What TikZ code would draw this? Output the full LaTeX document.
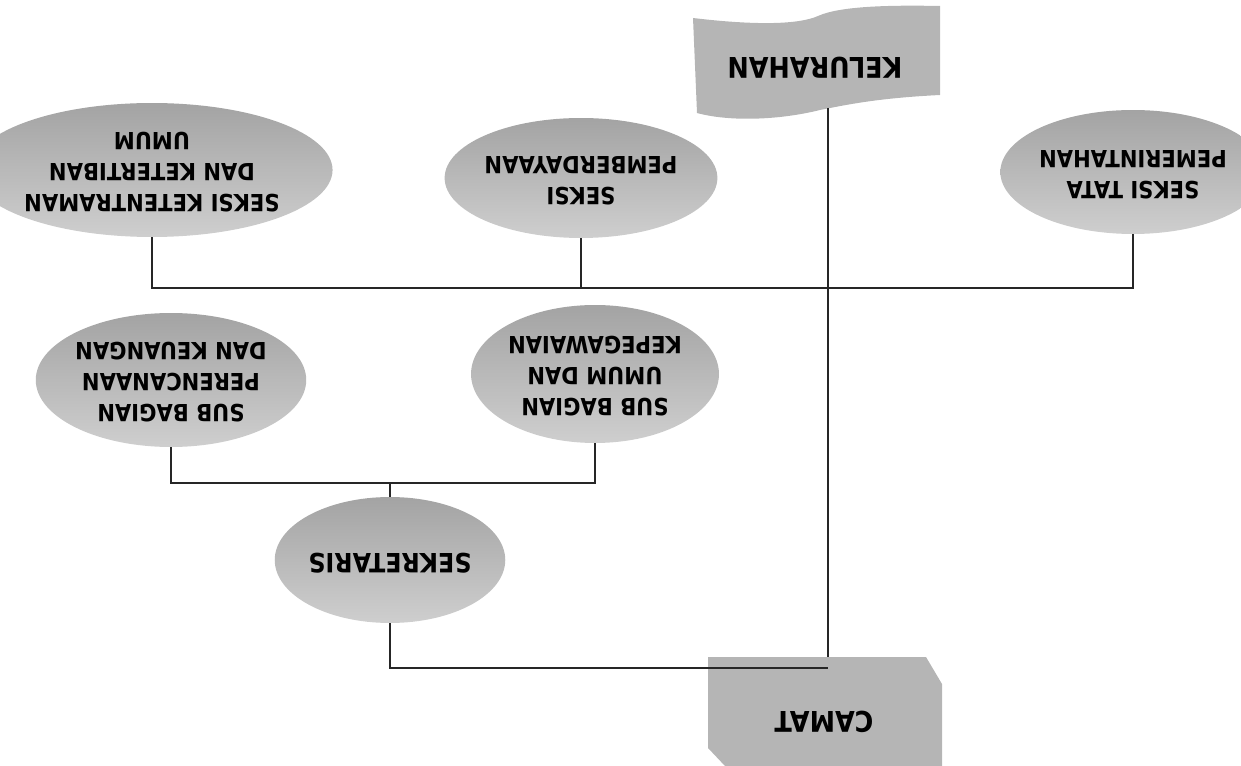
\documentclass[tikz,border=0pt]{standalone}
\usepackage{fontspec}
\setsansfont{DejaVu Sans}
\usepackage{tikz}
\usetikzlibrary{positioning}
\usetikzlibrary{shapes.geometric}

\tikzset{
  seksi/.style={ellipse, inner sep=0pt, top color=gray!72, bottom color=gray!38,
    font=\sffamily\bfseries\fontsize{12}{15.7}\selectfont},
  kepala/.style={inner sep=0pt, font=\sffamily\bfseries\fontsize{14.5}{17}\selectfont},
  garis/.style={line width=1pt, black!85},
  papan/.style={fill=gray!58}
}
\newcommand{\balik}[1]{\rotatebox{180}{\scalebox{1}[1.12]{\begin{tabular}{@{}c@{}}#1\end{tabular}}}}

\begin{document}
\begin{tikzpicture}[x=0.02cm, y=-0.02cm]
        \useasboundingbox (0,0) rectangle (1241,766);
        % kelurahan and camat
        \fill[papan] (693,18) .. controls (760,26) and (800,24) .. (818,16)
            .. controls (840,6) and (890,5) .. (940,6) -- (940,95)
            .. controls (880,98) and (850,104) .. (820,110)
            .. controls (780,120) and (730,122) .. (697,113) -- cycle;
        \fill[papan] (708,657) -- (926,657) -- (942,684) -- (942,766)
            -- (725,766) -- (708,748) -- cycle;
        \node[kepala] (kel) at (815,64) {\balik{KELURAHAN}};
        \node[kepala] (camat) at (824,718) {\balik{CAMAT}};
        % seksi
        \node[seksi, minimum width=5.72cm, minimum height=2.68cm] (ketentraman) at (152,170)
            {\balik{SEKSI KETENTRAMAN\\DAN KETERTIBAN\\UMUM}};
        \node[seksi, minimum width=4.52cm, minimum height=2.4cm] (pemberdayaan) at (581,178)
            {\balik{SEKSI\\PEMBERDAYAAN}};
        \node[seksi, minimum width=4.48cm, minimum height=2.48cm] (tata) at (1133,172)
            {\balik{SEKSI TATA\\PEMERINTAHAN}};
        % sekretariat
        \node[seksi, minimum width=5.32cm, minimum height=2.68cm] (perencanaan) at (171,380)
            {\balik{SUB BAGIAN\\PERENCANAAN\\DAN KEUANGAN}};
        \node[seksi, minimum width=4.96cm, minimum height=2.76cm] (umum) at (595,374)
            {\balik{SUB BAGIAN\\UMUM DAN\\KEPEGAWAIAN}};
        \node[seksi, minimum width=4.52cm, minimum height=2.52cm,
            font=\sffamily\bfseries\fontsize{13.5}{15.7}\selectfont] (sekretaris) at (390,560)
            {\balik{SEKRETARIS}};
        % connectors
        \coordinate (kelb) at (828,108);
        \coordinate (camt) at (828,657);
        \coordinate (jsek) at (828,668);
        \coordinate (jseksi) at (828,288);
        \coordinate (jsub) at (390,483);
        \draw[garis] (kelb) -- (camt);
        \draw[garis] (sekretaris.south) |- (jsek);
        \draw[garis] (sekretaris.north) -- (jsub);
        \draw[garis] (perencanaan.south) |- (jsub) -| (umum.south);
        \draw[garis] (ketentraman.south) |- (jseksi) -| (tata.south);
        \draw[garis] (pemberdayaan.south) -- (pemberdayaan.south |- jseksi);
\end{tikzpicture}
\end{document}
